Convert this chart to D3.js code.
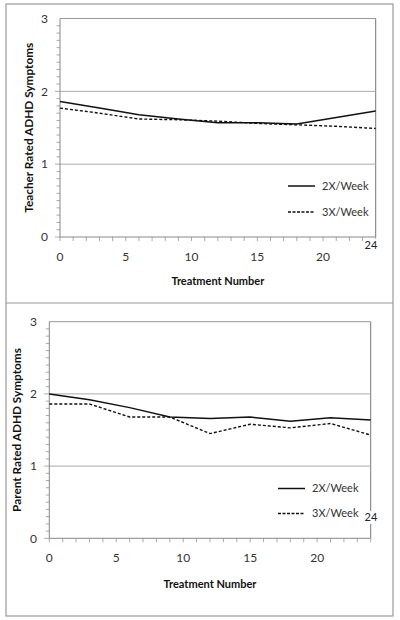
<!DOCTYPE html>
<html><head><meta charset="utf-8">
<script src="https://cdn.jsdelivr.net/npm/d3@7"></script>
<style>body{margin:0;background:#fff}svg{display:block}</style>
</head><body>
<script>
const treatments = [0,3,6,9,12,15,18,21,24];
const teacher2x = [1.86,1.77,1.68,1.62,1.57,1.57,1.55,1.64,1.73];
const teacher3x = [1.77,1.70,1.62,1.61,1.59,1.56,1.54,1.52,1.49];
const parent2x = [2.00,1.92,1.81,1.68,1.66,1.68,1.62,1.67,1.64];
const parent3x = [1.86,1.86,1.68,1.68,1.45,1.58,1.53,1.59,1.43];
const seriesNames = ["2X/Week","3X/Week"];
const xTickLabels = [0,5,10,15,20];
const yTickLabels = [0,1,2,3];
const yTitles = ["Teacher Rated ADHD Symptoms","Parent Rated ADHD Symptoms"];
const xTitle = "Treatment Number";

const svg = d3.select("body").append("svg").attr("width",400).attr("height",620);
const font = "Lato, 'Open Sans', sans-serif";

const panels = [
  {plot:{l:60,r:375.7,t:18.5,b:237}, s2:teacher2x, s3:teacher3x, yt:yTitles[0],
   ytx:29, xty:281, leg:{x1:288,x2:315,y1:186,y2:212}, lab24:{x:371,y:249}, yLabX:48},
  {plot:{l:49.3,r:370.7,t:321.7,b:538.3}, s2:parent2x, s3:parent3x, yt:yTitles[1],
   ytx:17, xty:584, leg:{x1:278,x2:305,y1:488.5,y2:513.5}, lab24:{x:371,y:521}, yLabX:37}
];

svg.append("rect").attr("x",6).attr("y",4).attr("width",387).attr("height",612)
  .attr("fill","none").attr("stroke","#999").attr("stroke-width",1.2);
svg.append("line").attr("x1",6).attr("x2",393).attr("y1",303).attr("y2",303)
  .attr("stroke","#999").attr("stroke-width",1.2);

panels.forEach(p=>{
  const P = p.plot;
  const x = d3.scaleLinear().domain([0,24]).range([P.l,P.r]);
  const y = d3.scaleLinear().domain([0,3]).range([P.b,P.t]);
  const g = svg.append("g");
  // frame
  g.append("line").attr("x1",P.l).attr("x2",P.r).attr("y1",P.t).attr("y2",P.t).attr("stroke","#999");
  g.append("line").attr("x1",P.r).attr("x2",P.r).attr("y1",P.t).attr("y2",P.b).attr("stroke","#777");
  // gridlines
  [1,2].forEach(v=>g.append("line").attr("x1",P.l).attr("x2",P.r).attr("y1",y(v)).attr("y2",y(v))
     .attr("stroke","#aaa").attr("stroke-width",1));
  // y minor ticks
  d3.range(0,30).forEach(i=>{
    const v=i/10;
    g.append("line").attr("x1",P.l-(i%10===0?5:3.5)).attr("x2",P.l).attr("y1",y(v)).attr("y2",y(v))
      .attr("stroke","#aaa");
  });
  // x minor ticks
  d3.range(0,25).forEach(v=>{
    g.append("line").attr("x1",x(v)).attr("x2",x(v)).attr("y1",P.b).attr("y2",P.b+4).attr("stroke","#aaa");
  });
  // axes
  g.append("line").attr("x1",P.l).attr("x2",P.l).attr("y1",P.t).attr("y2",P.b).attr("stroke","#888");
  g.append("line").attr("x1",P.l).attr("x2",P.r).attr("y1",P.b).attr("y2",P.b).attr("stroke","#888");
  // tick labels
  yTickLabels.forEach(v=>g.append("text").attr("x",p.yLabX).attr("y",y(v)).attr("dy","0.35em")
    .attr("text-anchor","end").attr("font-family",font).attr("font-size",12).attr("fill","#333").text(v));
  xTickLabels.forEach(v=>g.append("text").attr("x",x(v)).attr("y",P.b+24).attr("text-anchor","middle")
    .attr("font-family",font).attr("font-size",12).attr("fill","#333").text(v));
  g.append("rect").attr("x",p.lab24.x-8).attr("y",p.lab24.y-10).attr("width",16).attr("height",13).attr("fill","#fff");
  g.append("text").attr("x",p.lab24.x).attr("y",p.lab24.y).attr("text-anchor","middle")
    .attr("font-family",font).attr("font-size",11).attr("fill","#222").text("24");
  // titles
  g.append("text").attr("transform",`translate(${p.ytx},${(P.t+P.b)/2}) rotate(-90)`).attr("dy","0.35em")
    .attr("text-anchor","middle").attr("font-family",font).attr("font-weight","bold").attr("font-size",11.8)
    .attr("fill","#111").text(p.yt);
  g.append("text").attr("x",(P.l+P.r)/2).attr("y",p.xty).attr("dy","0.35em").attr("text-anchor","middle")
    .attr("font-family",font).attr("font-weight","bold").attr("font-size",11).attr("fill","#111").text(xTitle);
  // lines
  const line = d3.line().x(d=>x(d[0])).y(d=>y(d[1]));
  g.append("path").datum(treatments.map((t,i)=>[t,p.s3[i]])).attr("d",line).attr("fill","none")
    .attr("stroke","#111").attr("stroke-width",1.4).attr("stroke-dasharray","3,2");
  g.append("path").datum(treatments.map((t,i)=>[t,p.s2[i]])).attr("d",line).attr("fill","none")
    .attr("stroke","#111").attr("stroke-width",1.5);
  // legend
  const L=p.leg;
  g.append("line").attr("x1",L.x1).attr("x2",L.x2).attr("y1",L.y1).attr("y2",L.y1).attr("stroke","#111").attr("stroke-width",1.5);
  g.append("line").attr("x1",L.x1).attr("x2",L.x2).attr("y1",L.y2).attr("y2",L.y2).attr("stroke","#111")
    .attr("stroke-width",1.3).attr("stroke-dasharray","3,1.5");
  [L.y1,L.y2].forEach((yy,i)=>g.append("text").attr("x",L.x2+7).attr("y",yy).attr("dy","0.35em")
    .attr("font-family",font).attr("font-size",11).attr("fill","#333").text(seriesNames[i]));
});
</script>
</body></html>
